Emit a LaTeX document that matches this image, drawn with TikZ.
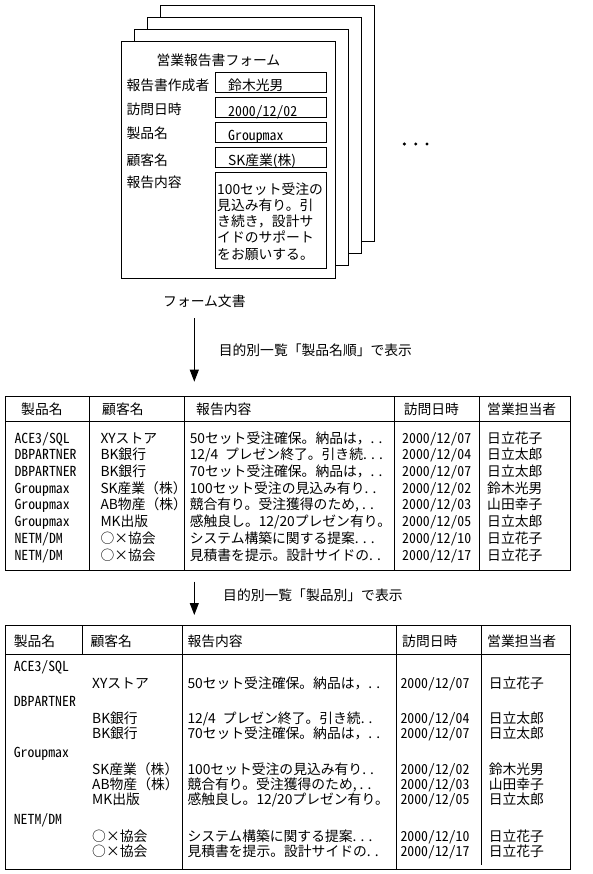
\documentclass[tikz,border=0pt]{standalone}
\usepackage{fontspec}
\newfontfamily\jp{Noto Sans CJK JP}
\newfontfamily\jphw[RawFeature=+hwid]{Noto Sans CJK JP}
\usetikzlibrary{arrows.meta}
\tikzset{
  txt/.style={anchor=west,inner sep=0pt,text height=11.9pt,text depth=1.7pt,font=\jp\fontsize{13.8}{16}\selectfont},
  hw/.style={txt,font=\jphw\fontsize{13.8}{16}\selectfont},
  arr/.style={-{Triangle[width=9pt,length=12pt]}}
}

\begin{document}
\begin{tikzpicture}[x=1pt,y=-1pt,line width=1pt]
\useasboundingbox (0,0) rectangle (592,874);
\foreach \k in {3,2,1}
  \filldraw[fill=white] ({121+13*\k},{42-12.3*\k}) rectangle +(214,236);
\filldraw[fill=white] (121,42) rectangle +(214,236);
\node[txt] (ftitle) at (156,60) {営業報告書フォーム};
\foreach \lb/\yy/\bt/\bb [count=\i] in {報告書作成者/85/72.7/92.7,訪問日時/109/97.7/117.7,製品名/133.3/122.7/142.3,顧客名/160/147.7/167.7,報告内容/182.7/172.7/268.3} {
  \node[txt] (flab\i) at (126,\yy) {\lb};
  \draw (215,\bt) rectangle (326,\bb);
}
\node[txt] (fval1) at (227.7,85) {鈴木光男};
\node[hw] (fval2) at (227.7,111) {2000/12/02};
\node[hw] (fval3) at (227.7,135.7) {Groupmax};
\node[txt] (fval4) at (227.7,160.7) {SK産業(株)};
\foreach \ln [count=\i] in {100セット受注の,見込み有り。引,き続き，設計サ,イドのサポート,をお願いする。}
  \node[txt] (fbody\i) at (216.7,{173+16.2*\i}) {\ln};
\foreach \xx in {404.3,415.7,427} \fill (\xx,144) circle (1.7);
\node[txt] (doclab) at (162.7,301.7) {フォーム文書};

\coordinate (a1s) at (194.3,318);
\coordinate (a1e) at (194.3,381.7);
\draw[arr] (a1s) -- (a1e);
\node[txt] (a1lab) at (218.3,350) {目的別一覧「製品名順」で表示};

\draw (5.3,396.7) rectangle (570,570.7);
\draw (5.3,421) -- (570,421);
\foreach \xx in {89.3,184.3,394.3,479.3} \draw (\xx,396.7) -- (\xx,570.7);
\foreach \hd/\xx [count=\i] in {製品名/20.7,顧客名/101.7,報告内容/195.7,訪問日時/403.3,営業担当者/486.7}
  \node[txt] (ah\i) at (\xx,409.3) {\hd};
\foreach \pr/\cu/\rp/\d/\pe [count=\i from 0] in {
  {ACE3/SQL}/XYストア/{50セット受注確保。納品は，. .}/07/日立花子,
  DBPARTNER/BK銀行/{12/4\enspace プレゼン終了。引き続. . .}/04/日立太郎,
  DBPARTNER/BK銀行/{70セット受注確保。納品は，. .}/07/日立太郎,
  Groupmax/SK産業（株）/{100セット受注の見込み有り. .}/02/鈴木光男,
  Groupmax/AB物産（株）/{競合有り。受注獲得のため, . .}/03/山田幸子,
  Groupmax/MK出版/{感触良し。12/20プレゼン有り。}/05/日立太郎,
  {NETM/DM}/○×協会/{システム構築に関する提案. . .}/10/日立花子,
  {NETM/DM}/○×協会/{見積書を提示。設計サイドの. .}/17/日立花子} {
  \node[hw] (ap\i) at (14,{438+16.7*\i}) {\pr};
  \node[txt] (ac\i) at (100,{438+16.7*\i}) {\cu};
  \node[txt] (ar\i) at (189.3,{438+16.7*\i}) {\rp};
  \node[hw] (ad\i) at (401.7,{438+16.7*\i}) {2000/12/\d};
  \node[txt] (ae\i) at (486.7,{438+16.7*\i}) {\pe};
}

\coordinate (a2s) at (194.3,581.7);
\coordinate (a2e) at (194.3,615);
\draw[arr] (a2s) -- (a2e);
\node[txt] (a2lab) at (222.7,595) {目的別一覧「製品別」で表示};

\draw (5,625) rectangle (570,869);
\draw (5,654) -- (570,654);
\draw (82.7,625) -- (82.7,654);
\draw (182.7,625) -- (182.7,869);
\draw (396,625) -- (396,869);
\draw (481,625) -- (481,865);
\foreach \hd/\xx [count=\i] in {製品名/13.3,顧客名/90,報告内容/187,訪問日時/401.7,営業担当者/486.7}
  \node[txt] (bh\i) at (\xx,641.7) {\hd};
\foreach \g/\yy [count=\i] in {{ACE3/SQL}/666.7,DBPARTNER/701.7,Groupmax/752.3,{NETM/DM}/819}
  \node[hw] (bg\i) at (13.3,\yy) {\g};
\foreach \yy/\cu/\rp/\d/\pe [count=\i] in {
  683.3/XYストア/{50セット受注確保。納品は，. .}/07/日立花子,
  718/BK銀行/{12/4\enspace プレゼン終了。引き続. .}/04/日立太郎,
  733/BK銀行/{70セット受注確保。納品は，. .}/07/日立太郎,
  769/SK産業（株）/{100セット受注の見込み有り. .}/02/鈴木光男,
  784/AB物産（株）/{競合有り。受注獲得のため, . .}/03/山田幸子,
  799/MK出版/{感触良し。12/20プレゼン有り。}/05/日立太郎,
  836/○×協会/{システム構築に関する提案. . .}/10/日立花子,
  851/○×協会/{見積書を提示。設計サイドの. .}/17/日立花子} {
  \node[txt] (bc\i) at (91.7,\yy) {\cu};
  \node[txt] (br\i) at (187,\yy) {\rp};
  \node[hw] (bd\i) at (400,\yy) {2000/12/\d};
  \node[txt] (be\i) at (488.3,\yy) {\pe};
}
\end{tikzpicture}
\end{document}
